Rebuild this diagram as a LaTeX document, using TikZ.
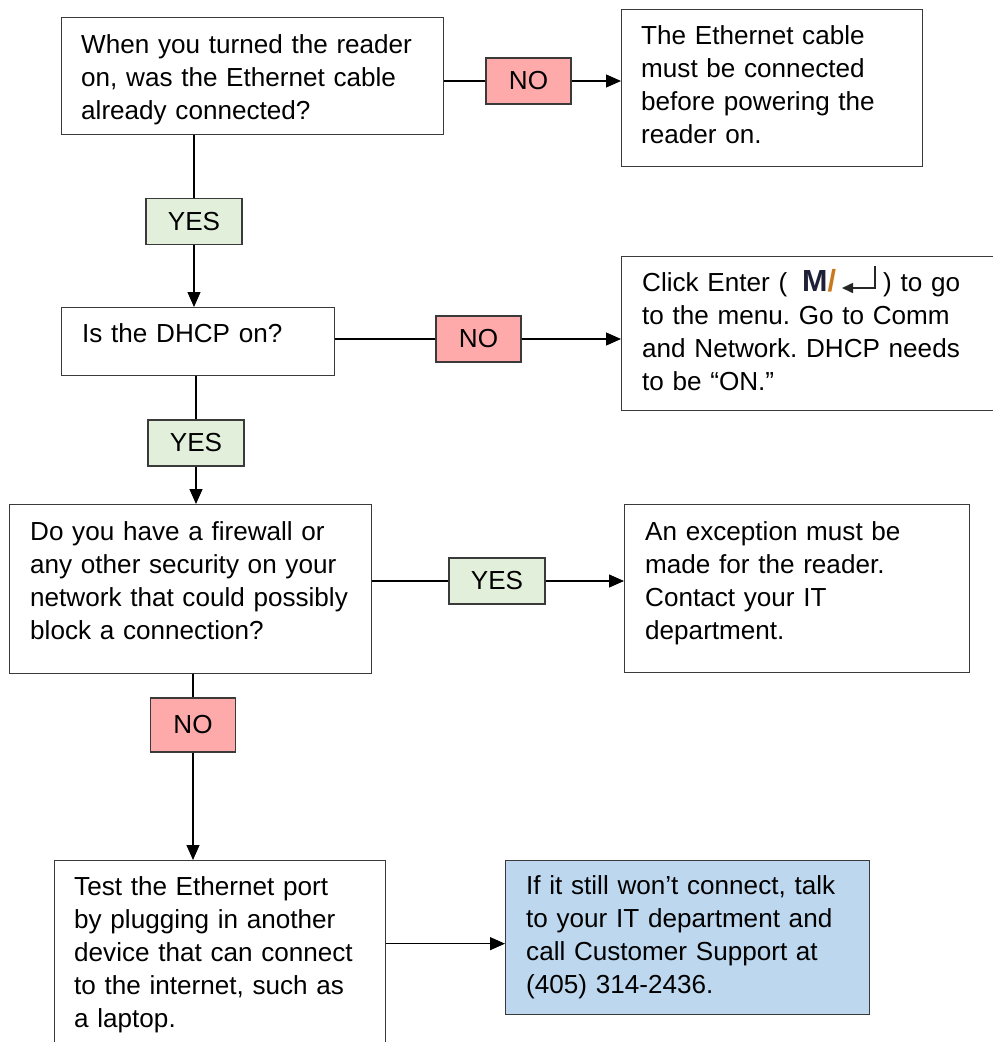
\documentclass[tikz,border=0pt]{standalone}
\usepackage{fontspec}
\setmainfont{Liberation Sans}
\usetikzlibrary{arrows.meta,calc}
\definecolor{noFill}{HTML}{FFAAAA}
\definecolor{yesFill}{HTML}{E2EFDA}
\definecolor{endFill}{HTML}{BDD7EE}
\definecolor{edge}{HTML}{3A3A3A}
\definecolor{mnavy}{HTML}{1E2038}
\definecolor{morange}{HTML}{C8791E}
\frenchspacing
\begin{document}
\begin{tikzpicture}[x=1pt,y=-1pt,
  box/.style={draw=edge, line width=1.3pt, rectangle, inner sep=0pt, anchor=north west},
  txt/.style={anchor=base west, inner sep=0pt, align=left, text width=420pt,
              font=\fontsize{26.1}{33}\selectfont},
  tag/.style={draw=edge, line width=1.3pt, rectangle, inner sep=0pt,
              font=\fontsize{26.1}{33}\selectfont},
  notag/.style={tag, fill=noFill, minimum width=85pt, minimum height=46pt},
  yestag/.style={tag, fill=yesFill, minimum width=96pt, minimum height=46pt},
  conn/.style={draw=black, line width=1.2pt},
  arr/.style={conn, -{Triangle[length=15pt,width=13pt]}}
]
\useasboundingbox (0,0) rectangle (993,1042);
\fill[white] (0,0) rectangle (993,1042);
\clip (0,0) rectangle (993,1042);

% boxes
\node[box, minimum width=382pt, minimum height=117pt] (A) at (61,17) {};
\node[box, minimum width=301pt, minimum height=157pt] (B) at (621,9) {};
\node[box, minimum width=273pt, minimum height=68pt]  (C) at (61,307) {};
\node[box, minimum width=400pt, minimum height=154pt] (D) at (621,256) {};
\node[box, minimum width=362pt, minimum height=169pt] (E) at (9,504) {};
\node[box, minimum width=345pt, minimum height=168pt] (F) at (624,504) {};
\node[box, minimum width=331pt, minimum height=220pt] (G) at (54,860) {};
\node[box, fill=endFill, minimum width=364pt, minimum height=154pt] (H) at (505,860) {};

% texts
\node[txt] (At) at ($(A.north west)+(20,36)$) {When you turned the reader\\on, was the Ethernet cable\\already connected?};
\node[txt] (Bt) at ($(B.north west)+(20,35)$) {The Ethernet cable\\must be connected\\before powering the\\reader on.};
\node[txt] (Ct) at ($(C.north west)+(21,35)$) {Is the DHCP on?};
\node[txt] (Dt) at ($(D.north west)+(21,35)$) {Click Enter (\hspace*{96pt}) to go\\to the menu. Go to Comm\\and Network. DHCP needs\\to be “ON.”};
\node[txt] (Et) at ($(E.north west)+(21,36)$) {Do you have a firewall or\\any other security on your\\network that could possibly\\block a connection?};
\node[txt] (Ft) at ($(F.north west)+(21,36)$) {An exception must be\\made for the reader.\\Contact your IT\\department.};
\node[txt] (Gt) at ($(G.north west)+(20,35)$) {Test the Ethernet port\\by plugging in another\\device that can connect\\to the internet, such as\\a laptop.};
\node[txt] (Ht) at ($(H.north west)+(21,34)$) {If it still won’t connect, talk\\to your IT department and\\call Customer Support at\\(405) 314-2436.};

% enter key icon
\node[anchor=base west, inner sep=0pt, font=\bfseries\fontsize{30.5}{33}\selectfont] (Mk) at ($(Dt.base west)+(160,0)$) {\textcolor{mnavy}{M}\textcolor{morange}{/}};
\coordinate (enTop) at ($(Dt.base west)+(233,-25)$);
\coordinate (enCorner) at ($(Dt.base west)+(233,-3)$);
\coordinate (enTip) at ($(Dt.base west)+(200,-3)$);
\draw[line width=1.6pt, black!85, -{Triangle[length=11pt,width=10pt]}] (enTop) -- (enCorner) -- (enTip);

% tags
\node[notag]  (NO1)  at (528.5,81) {NO};
\node[yestag] (YES1) at (194,221.5) {YES};
\node[notag]  (NO2)  at (478.5,339) {NO};
\node[yestag] (YES2) at (196,443) {YES};
\node[yestag] (YES3) at (497,581) {YES};
\node[notag, minimum height=54pt] (NO3) at (193,725) {NO};

% connectors
\draw[conn] (NO1.west -| A.east) -- (NO1.west);
\draw[arr]  (NO1.east) -- (NO1.east -| B.west);
\draw[conn] (A.south -| YES1.north) -- (YES1.north);
\draw[arr]  (YES1.south) -- (YES1.south |- C.north);
\draw[conn] (NO2.west -| C.east) -- (NO2.west);
\draw[arr]  (NO2.east) -- (NO2.east -| D.west);
\draw[conn] (C.south -| YES2.north) -- (YES2.north);
\draw[arr]  (YES2.south) -- (YES2.south |- E.north);
\draw[conn] (YES3.west -| E.east) -- (YES3.west);
\draw[arr]  (YES3.east) -- (YES3.east -| F.west);
\draw[conn] (E.south -| NO3.north) -- (NO3.north);
\draw[arr]  (NO3.south) -- (NO3.south |- G.north);
\coordinate (hIn) at ([yshift=-6pt]H.west);
\draw[arr]  (hIn -| G.east) -- (hIn);
\end{tikzpicture}
\end{document}
